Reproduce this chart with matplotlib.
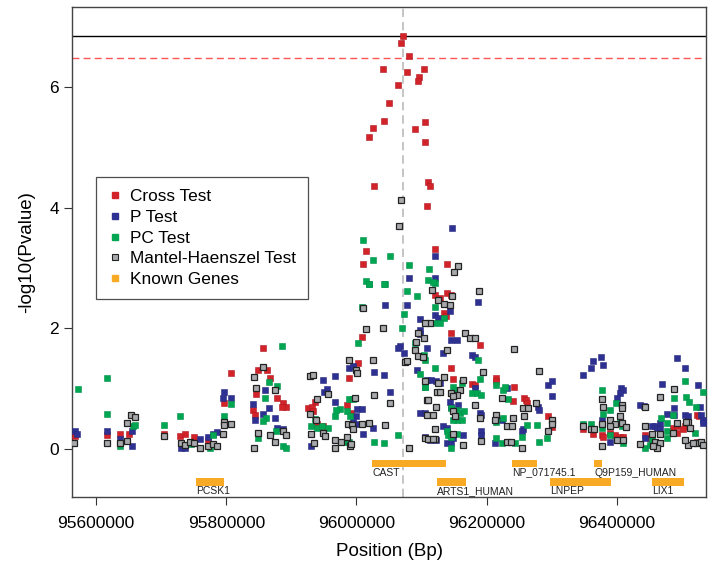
import matplotlib
matplotlib.use("Agg")
import matplotlib.pyplot as plt
from matplotlib.lines import Line2D

plt.rcParams['font.family'] = ['Liberation Sans', 'DejaVu Sans']

# ---------------- data (position in kb, value = -log10 p) ----------------
cross_pos = [96072, 96068, 96081, 96041, 96077, 96104, 96096, 96094, 96064, 96050,
             96043, 96026, 96019, 96106, 96090, 96106, 96027, 96110, 96113, 96109,
             96015, 96120, 96010, 96139, 96139, 96121, 96128, 96146, 96135, 96138,
             96146, 96190, 96146, 96149, 96177, 96182, 96214, 96214, 96242, 96257,
             96260, 96240, 96262, 96295, 96300, 96009, 96002, 95988, 95936, 95887,
             95892, 95885, 95926, 95931, 95934, 95986, 95991, 95940, 95949, 95617,
             95637, 95650, 95704, 95729, 95736, 95750, 95772, 95797, 95808, 95856,
             95849, 95862, 95867, 95845, 95878, 95841, 95844, 96348, 96364, 96377,
             96379, 96390, 96397, 96405, 96410, 96443, 96451, 96487, 96492, 96492,
             96505, 96510, 96502, 96523, 96527, 96523, 95567]
cross_val = [6.85, 6.74, 6.51, 6.30, 6.25, 6.30, 6.17, 6.10, 6.04, 5.74,
             5.44, 5.33, 5.18, 5.42, 5.31, 5.09, 4.36, 4.43, 4.36, 4.03,
             3.28, 3.31, 3.06, 3.06, 2.58, 2.55, 2.50, 2.55, 2.25, 2.21,
             1.92, 1.72, 1.34, 1.16, 1.08, 1.06, 1.18, 1.12, 1.02, 0.84,
             0.81, 0.80, 0.76, 0.54, 0.36, 1.86, 1.42, 1.18, 0.78, 0.76,
             0.70, 0.69, 0.67, 0.70, 0.62, 0.72, 0.59, 0.41, 0.37, 0.23,
             0.24, 0.24, 0.24, 0.22, 0.25, 0.19, 0.15, 0.76, 1.26, 1.68,
             1.31, 1.31, 1.18, 0.91, 0.84, 0.64, 0.56, 0.32, 0.25, 0.23,
             0.20, 0.26, 0.23, 0.20, 0.20, 0.23, 0.18, 0.34, 0.37, 0.26,
             0.38, 0.37, 0.33, 0.56, 0.55, 0.12, 0.22]

p_pos = [95617, 95637, 95655, 95655, 95731, 95737, 95760, 95772, 95780, 95785,
         95797, 95795, 95808, 95841, 95866, 95856, 95844, 95875, 95860, 95878,
         95887, 96044, 96077, 96097, 96097, 96098, 96067, 96064, 96073, 96109,
         95988, 95995, 95967, 95948, 96027, 96042, 96093, 96108, 96115, 96122,
         96128, 95950, 95954, 96052, 95967, 96001, 96009, 96000, 95994, 96001,
         96010, 96026, 95930, 96105, 96110, 96116, 96122, 96147, 96120, 96081,
         96120, 96144, 96187, 96121, 96126, 96146, 96154, 96133, 96177, 96182,
         96182, 96232, 96295, 96300, 96300, 96279, 96281, 96098, 96105, 96116,
         96144, 96146, 96156, 96190, 96192, 96223, 96256, 96254, 96133, 96139,
         96139, 96146, 96149, 96164, 96113, 96192, 96192, 96213, 96348, 96360,
         96364, 96376, 96378, 96493, 96504, 96469, 96524, 96406, 96410, 96405,
         96400, 96436, 96442, 96477, 96488, 96488, 96505, 96510, 96528, 96530,
         96533, 96377, 96390, 96443, 96454, 96459, 96467, 96461, 96467, 96533,
         95567, 95570]
p_val = [0.30, 0.17, 0.30, 0.05, 0.02, 0.01, 0.16, 0.20, 0.25, 0.28,
         0.95, 0.85, 0.85, 0.75, 0.67, 0.58, 0.48, 0.51, 0.98, 0.34,
         0.33, 2.39, 2.38, 2.15, 1.97, 1.90, 1.71, 1.67, 1.59, 1.67,
         1.34, 1.38, 1.21, 1.14, 1.27, 1.22, 1.31, 1.14, 1.14, 1.12,
         1.09, 0.95, 0.99, 0.95, 0.77, 0.66, 0.66, 0.55, 0.45, 0.41,
         0.24, 0.34, 0.04, 0.20, 0.16, 0.16, 0.15, 3.67, 3.20, 2.84,
         2.84, 2.28, 2.43, 2.22, 2.17, 1.81, 1.81, 1.59, 1.56, 1.52,
         1.01, 1.01, 1.06, 1.12, 0.88, 0.70, 0.65, 0.59, 0.59, 0.56,
         0.78, 0.70, 0.73, 0.59, 0.56, 0.48, 0.32, 0.29, 0.37, 0.34,
         0.09, 0.09, 0.18, 0.23, 0.15, 0.29, 0.23, 0.09, 1.23, 1.34,
         1.46, 1.53, 1.39, 1.51, 1.34, 1.08, 1.06, 1.01, 0.98, 0.93,
         0.84, 0.73, 0.71, 0.58, 0.67, 0.56, 0.56, 0.54, 0.70, 0.56,
         0.48, 0.48, 0.11, 0.18, 0.38, 0.37, 0.43, 0.34, 0.33, 0.43,
         0.30, 0.25]

pc_pos = [95617, 95617, 95636, 95656, 95660, 95704, 95729, 95746, 95775, 95780,
          95797, 95808, 95886, 95866, 95878, 95860, 95861, 95856, 95877, 95849,
          95887, 95892, 96020, 96044, 96077, 96093, 96008, 96073, 96070, 96002,
          96090, 96104, 96106, 96121, 96105, 96098, 95989, 95995, 95974, 95969,
          95967, 95985, 95990, 95936, 95930, 95939, 95947, 95957, 96064, 96027,
          96042, 95982, 95989, 96010, 96026, 96052, 96081, 96112, 96110, 96015,
          96019, 96043, 96121, 96117, 96121, 96135, 96119, 96128, 96187, 96162,
          96105, 96149, 96151, 96190, 96177, 96185, 96192, 96225, 96228, 96214,
          96233, 96292, 96280, 96146, 96154, 96159, 96154, 96162, 96149, 96165,
          96215, 96225, 96262, 96277, 96255, 96139, 96141, 96146, 96154, 96146,
          96214, 96223, 96233, 96244, 96504, 96533, 96488, 96507, 96511, 96377,
          96399, 96379, 96390, 96468, 96477, 96522, 96348, 96361, 96377, 96405,
          96408, 96390, 96410, 96443, 96454, 96451, 96477, 96477, 96520, 96487,
          95572]
pc_val = [1.17, 0.58, 0.04, 0.37, 0.39, 0.39, 0.54, 0.08, 0.01, 0.23,
          0.54, 0.74, 1.71, 1.10, 1.04, 0.84, 0.51, 0.46, 0.30, 0.18,
          0.04, 0.01, 2.74, 2.73, 2.62, 2.54, 2.36, 2.23, 2.00, 1.75,
          1.76, 1.56, 1.48, 1.34, 1.03, 1.24, 0.83, 0.82, 0.66, 0.64,
          0.54, 0.62, 0.54, 0.49, 0.37, 0.34, 0.37, 0.34, 0.23, 0.11,
          0.09, 0.12, 0.12, 3.47, 3.13, 3.20, 3.05, 2.98, 2.80, 2.79,
          2.73, 2.73, 2.75, 2.76, 2.36, 2.17, 2.08, 2.08, 1.48, 1.09,
          1.02, 1.03, 0.98, 1.16, 0.92, 0.92, 0.90, 0.97, 1.02, 1.06,
          0.83, 0.18, 0.12, 0.67, 0.65, 0.59, 0.48, 0.48, 0.48, 0.62,
          0.45, 0.51, 0.40, 0.40, 0.20, 0.29, 0.23, 0.20, 0.25, 0.01,
          0.18, 0.09, 0.12, 0.10, 1.13, 0.95, 0.84, 0.86, 0.78, 0.98,
          0.76, 0.58, 0.65, 0.51, 0.43, 0.70, 0.41, 0.41, 0.34, 0.48,
          0.37, 0.23, 0.10, 0.01, 0.15, 0.07, 0.29, 0.18, 0.26, 0.56,
          1.00]

mh_pos = [95617, 95636, 95648, 95653, 95660, 95648, 95704, 95731, 95737, 95745,
          95750, 95760, 95772, 95780, 95785, 95795, 95796, 95797, 95808, 95856,
          95843, 95845, 95875, 95849, 95867, 95875, 95843, 95887, 95891, 96010,
          96015, 96041, 96092, 96104, 96094, 96090, 96095, 96103, 96075, 96078,
          95988, 96026, 96000, 96001, 95929, 95933, 96106, 95957, 96027, 95939,
          96052, 96123, 96108, 95998, 95928, 95938, 95930, 95949, 95952, 95987,
          95993, 96008, 96019, 96044, 95985, 95994, 95967, 95976, 95967, 95990,
          95992, 95935, 96081, 96121, 96121, 96068, 96065, 96156, 96150, 96116,
          96188, 96147, 96126, 96134, 96144, 96113, 96105, 96167, 96174, 96182,
          96139, 96242, 96195, 96280, 96134, 96164, 96126, 96128, 96159, 96223,
          96276, 96256, 96264, 96300, 96300, 96295, 96110, 96122, 96109, 96117,
          96146, 96154, 96149, 96149, 96151, 96182, 96190, 96214, 96213, 96232,
          96239, 96240, 96258, 96255, 96149, 96164, 96105, 96110, 96118, 96191,
          96231, 96238, 96488, 96377, 96408, 96408, 96379, 96467, 96444, 96509,
          96348, 96360, 96365, 96377, 96390, 96397, 96390, 96405, 96408, 96414,
          96377, 96400, 96410, 96436, 96443, 96454, 96459, 96467, 96467, 96461,
          96456, 96492, 96507, 96487, 96512, 96510, 96504, 96523, 96530, 96533,
          96517, 95566]
mh_val = [0.10, 0.10, 0.43, 0.56, 0.53, 0.13, 0.22, 0.09, 0.07, 0.12,
          0.09, 0.02, 0.05, 0.08, 0.05, 0.25, 0.45, 0.39, 0.41, 1.35,
          1.19, 1.01, 0.97, 0.26, 0.23, 0.12, 0.01, 0.30, 0.23, 2.33,
          1.99, 2.00, 1.77, 1.84, 1.92, 1.64, 1.54, 1.52, 1.44, 1.46,
          1.48, 1.48, 1.31, 1.26, 1.20, 1.23, 1.13, 0.91, 0.90, 0.83,
          0.76, 0.95, 0.81, 0.84, 0.58, 0.48, 0.25, 0.27, 0.22, 0.41,
          0.39, 0.41, 0.43, 0.39, 0.19, 0.33, 0.14, 0.11, 0.02, 0.05,
          0.08, 0.09, 0.01, 0.33, 0.16, 4.12, 3.70, 3.03, 2.93, 2.63,
          2.62, 2.54, 2.47, 2.40, 2.39, 2.08, 2.08, 1.92, 1.84, 1.84,
          1.64, 1.66, 1.27, 1.29, 1.19, 1.14, 1.09, 0.95, 0.98, 0.84,
          0.76, 0.67, 0.67, 0.48, 0.41, 0.29, 0.81, 0.69, 0.56, 0.56,
          0.92, 0.90, 0.87, 0.62, 0.54, 0.73, 0.51, 0.56, 0.48, 0.37,
          0.37, 0.51, 0.54, 0.01, 0.25, 0.07, 0.18, 0.16, 0.16, 0.13,
          0.12, 0.12, 0.99, 0.83, 0.73, 0.68, 0.70, 0.86, 0.70, 0.45,
          0.37, 0.33, 0.33, 0.41, 0.48, 0.41, 0.37, 0.54, 0.43, 0.36,
          0.04, 0.15, 0.15, 0.08, 0.37, 0.25, 0.12, 0.25, 0.09, 0.01,
          0.05, 0.43, 0.45, 0.26, 0.35, 0.07, 0.14, 0.09, 0.12, 0.07,
          0.09, 0.10]

gene_names = ['PCSK1', 'CAST', 'ARTS1_HUMAN', 'NP_071745.1', 'Q9P159_HUMAN', 'LNPEP', 'LIX1']
gene_start = [95754, 96024, 96123, 96239, 96365, 96298, 96454]
gene_end   = [95797, 96138, 96169, 96278, 96377, 96391, 96503]
gene_row   = [-0.55, -0.24, -0.55, -0.24, -0.24, -0.55, -0.55]

sig_threshold = 6.48
x_ticks = [95600000, 95800000, 96000000, 96200000, 96400000]
y_ticks = [0, 2, 4, 6]

# ---------------- figure ----------------
fig = plt.figure(figsize=(7.14, 5.72), dpi=100)
ax = fig.add_axes([72/714, 1 - 497/572, 634/714, 490/572])

c_red, c_blue, c_green, c_grey, c_orange = '#D2232A', '#2E3192', '#00A651', '#A7A9AC', '#F9AA25'

def bp(v):
    return [p * 1000 for p in v]

top_idx = cross_val.index(max(cross_val))
ax.axvline(cross_pos[top_idx] * 1000, color='#BBBBBB', lw=1.2, ls=(0, (5, 3)), zorder=1)
ax.axhline(max(cross_val), color='black', lw=1.0, zorder=1)
ax.axhline(sig_threshold, color='#FF5555', lw=1.0, ls=(0, (5, 3)), zorder=1)

ms = 4.2
ax.plot(bp(cross_pos), cross_val, 's', ms=ms, mfc=c_red, mec='#B01A20', mew=0.4, ls='none', zorder=3)
ax.plot(bp(p_pos), p_val, 's', ms=ms, mfc=c_blue, mec='#262A80', mew=0.4, ls='none', zorder=3)
ax.plot(bp(pc_pos), pc_val, 's', ms=ms, mfc=c_green, mec='#00904A', mew=0.4, ls='none', zorder=3)
ax.plot(bp(mh_pos), mh_val, 's', ms=ms, mfc=c_grey, mec='#222222', mew=0.9, ls='none', zorder=4)

for name, s, e, r in zip(gene_names, gene_start, gene_end, gene_row):
    ax.barh(r, (e - s) * 1000, left=s * 1000, height=0.12, color=c_orange, zorder=2)
    ax.text(s * 1000, r - 0.205, name, ha='left', va='baseline', fontsize=7.5,
            color='#222222', zorder=6)

ax.set_xlim(95563000, 96537000)
ax.set_ylim(-0.8, 7.33)
ax.set_xticks(x_ticks)
ax.set_xticklabels([str(t) for t in x_ticks])
ax.set_yticks(y_ticks)
ax.tick_params(axis='both', direction='out', length=6, width=0.8, labelsize=12.5, color='#333333')
ax.tick_params(axis='x', pad=8)
for sp in ax.spines.values():
    sp.set_color('#444444')
    sp.set_linewidth(1.0)

ax.set_xlabel('Position (Bp)', fontsize=13.5, labelpad=8)
ax.set_ylabel('-log10(Pvalue)', fontsize=13.5, labelpad=10)

handles = [
    Line2D([], [], marker='s', ls='none', ms=4, mfc=c_red, mec=c_red),
    Line2D([], [], marker='s', ls='none', ms=4, mfc=c_blue, mec=c_blue),
    Line2D([], [], marker='s', ls='none', ms=4, mfc=c_green, mec=c_green),
    Line2D([], [], marker='s', ls='none', ms=4, mfc=c_grey, mec='#222222', mew=0.8),
    Line2D([], [], marker='s', ls='none', ms=5, mfc=c_orange, mec=c_orange),
]
labels = ['Cross Test', 'P Test', 'PC Test', 'Mantel-Haenszel Test', 'Known Genes']
leg = ax.legend(handles, labels, loc='upper left', bbox_to_anchor=(0.038, 0.653),
                fontsize=12.4, frameon=True, fancybox=False, edgecolor='#222222',
                borderpad=0.7, labelspacing=0.33, handlelength=0.8, handletextpad=0.45,
                borderaxespad=0)
leg.get_frame().set_linewidth(0.9)

fig.savefig('out.png', dpi=100)
